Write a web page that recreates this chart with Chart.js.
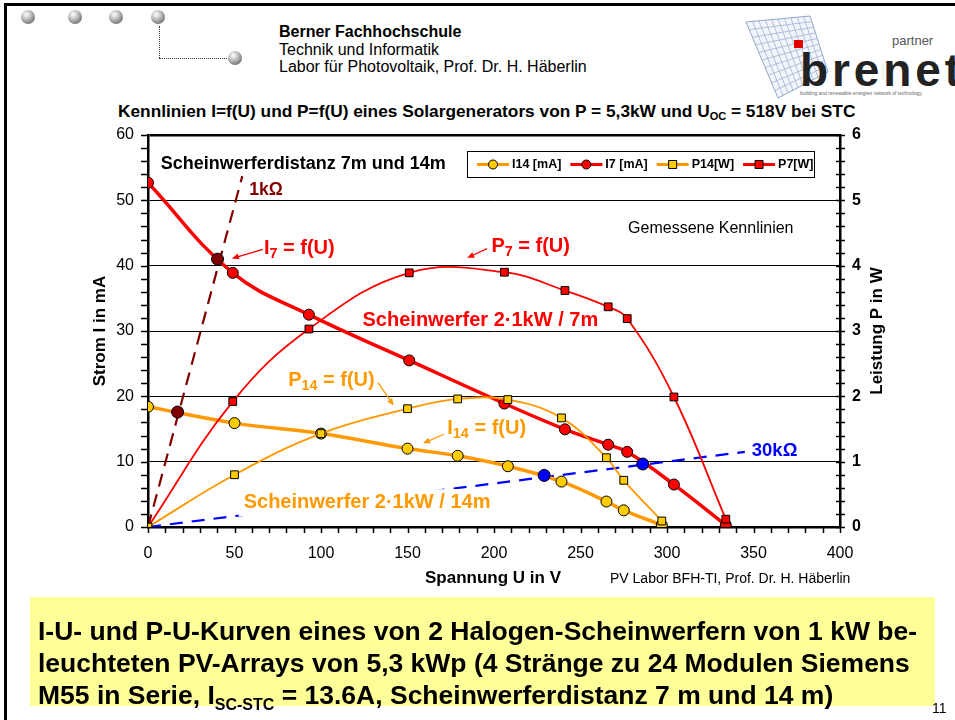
<!DOCTYPE html>
<html>
<head>
<meta charset="utf-8">
<script src="https://cdn.jsdelivr.net/npm/chart.js@4.4.1/dist/chart.umd.min.js"></script>
<style>
  body { margin: 0; width: 955px; height: 720px; background: #fff; position: relative; overflow: hidden;
         font-family: "Liberation Sans", Arial, sans-serif; color: #000; }
  .frame { position: absolute; left: 4px; top: 3px; width: 1000px; height: 800px;
           border-left: 3px solid #000; border-top: 3px solid #000; }
  .ball { position: absolute; width: 14px; height: 14px; border-radius: 50%;
          background: radial-gradient(circle at 38% 32%, #fff 0%, #ccc 30%, #777 75%, #444 100%); }
  .dots { position: absolute; border: 0 dotted #333; }
  .head { position: absolute; left: 279px; top: 23px; font-size: 16px; line-height: 17.5px; white-space: nowrap; }
  .title { position: absolute; left: 118px; top: 101px; font-size: 17.3px; font-weight: bold; white-space: nowrap; }
  .title sub { font-size: 11px; vertical-align: -3px; }
  #chart { position: absolute; left: 60px; top: 120px; }
  .credit { position: absolute; left: 610px; top: 570px; font-size: 14px; white-space: nowrap; }
  .note { position: absolute; left: 30px; top: 597px; width: 905px; height: 109px; background: #FFFF99;
          font-weight: bold; font-size: 26.5px; line-height: 32px; padding: 18px 0 0 8px; box-sizing: border-box; white-space: nowrap; }
  .note sub { font-size: 16px; vertical-align: -6px; line-height: 0; }
  .page { position: absolute; left: 932px; top: 700px; font-size: 14px; }
  .logo { position: absolute; left: 740px; top: 14px; }
</style>
</head>
<body>
<div class="frame"></div>
<div class="ball" style="left:21px;top:10px"></div>
<div class="ball" style="left:68px;top:10px"></div>
<div class="ball" style="left:109px;top:10px"></div>
<div class="ball" style="left:151px;top:10px"></div>
<div class="dots" style="left:159px;top:26px;height:32px;border-left-width:1.5px"></div>
<div class="dots" style="left:159px;top:58px;width:68px;border-top-width:1.5px"></div>
<div class="ball" style="left:228px;top:51px"></div>

<div class="head"><b>Berner Fachhochschule</b><br>Technik und Informatik<br>Labor für Photovoltaik, Prof. Dr. H. Häberlin</div>

<svg class="logo" width="215" height="90" viewBox="0 0 215 90">
  <g stroke="#8fa6c8" stroke-width="1" fill="#f2f5fb">
    <polygon points="6,8 70,2 88,58 38,84"/>
  </g>
  <g stroke="#9fb3d3" stroke-width="0.8" fill="none" id="grid"></g>
  <rect x="54" y="26" width="9" height="8" fill="#e00000"/>
  <text x="152" y="31" font-size="13" fill="#555" font-family="Liberation Sans, Arial">partner</text>
  <text x="60" y="72" font-size="46" font-weight="bold" fill="#222" font-family="Liberation Sans, Arial" textLength="160">brenet</text>
  <text x="60" y="81" font-size="5" fill="#666" font-family="Liberation Sans, Arial">building and renewable energies network of technology</text>
</svg>

<div class="title">Kennlinien I=f(U) und P=f(U) eines Solargenerators von P = 5,3kW und U<sub>OC</sub> = 518V bei STC</div>

<canvas id="chart" width="860" height="480"></canvas>

<div class="credit">PV Labor BFH-TI, Prof. Dr. H. Häberlin</div>

<div class="note">I-U- und P-U-Kurven eines von 2 Halogen-Scheinwerfern von 1 kW be-<br>leuchteten PV-Arrays von 5,3 kWp (4 Stränge zu 24 Modulen Siemens<br>M55 in Serie, I<sub>SC-STC</sub> = 13.6A, Scheinwerferdistanz 7 m und 14 m)</div>
<div class="page">11</div>

<script>
// Messwerte, Scheinwerferdistanz 14 m
const voltage14 = [0, 50, 100, 150, 179, 208, 239, 265, 275, 297];
const current14 = [18.4, 15.9, 14.3, 12.0, 10.9, 9.3, 6.95, 3.9, 2.55, 0.3];
const power14 = [0, 0.80, 1.43, 1.81, 1.96, 1.95, 1.67, 1.06, 0.715, 0.092];

// Messwerte, Scheinwerferdistanz 7 m
const voltage7 = [0, 49, 93, 151, 206, 241, 266, 277, 304, 334];
const current7 = [52.7, 38.9, 32.5, 25.5, 18.9, 14.95, 12.6, 11.5, 6.5, 0.3];
const power7 = [0, 1.92, 3.03, 3.89, 3.90, 3.62, 3.37, 3.19, 1.99, 0.12];

// Lastgeraden 1 kOhm und 30 kOhm
const load1kU = [0, 54.5];
const load1kI = [0, 53.7];
const load30kU = [0, 345];
const load30kI = [0, 11.5];

// Arbeitspunkte auf den Lastgeraden
const op1kU = [17.1, 40.2];
const op1kI = [17.6, 41.0];
const op30kU = [229, 286];
const op30kI = [7.9, 9.64];

const orange = '#FF9900', yellow = '#FFCC00', red = '#FF0000', darkRed = '#800000', blue = '#0000FF';
const FONT = '"Liberation Sans", Arial, sans-serif';

const pts = (xs, ys) => xs.map((v, i) => ({ x: v, y: ys[i] }));

Chart.defaults.font.family = FONT;
Chart.defaults.color = '#000';

// Beschriftungen im Diagramm (Position in V / mA)
const notes = [
  { u: 7.3, i: 55.6, parts: [['Scheinwerferdistanz 7m und 14m']], color: '#000', size: 18 },
  { u: 58.5, i: 51.5, parts: [['1kΩ']], color: darkRed, size: 17.5 },
  { u: 67, i: 42.7, parts: [['I'], ['7', 1], [' = f(U)']], color: red, size: 20 },
  { u: 198.5, i: 42.9, parts: [['P'], ['7', 1], [' = f(U)']], color: red, size: 20 },
  { u: 277.5, i: 45.7, parts: [['Gemessene Kennlinien']], color: '#000', size: 16, normal: true },
  { u: 124, i: 31.6, parts: [['Scheinwerfer 2·1kW / 7m']], color: red, size: 20 },
  { u: 81, i: 22.4, parts: [['P'], ['14', 1], [' = f(U)']], color: orange, size: 20 },
  { u: 173, i: 15.1, parts: [['I'], ['14', 1], [' = f(U)']], color: orange, size: 20 },
  { u: 55.3, i: 3.8, parts: [['Scheinwerfer 2·1kW / 14m']], color: orange, size: 20, box: true },
  { u: 349, i: 11.6, parts: [['30kΩ']], color: blue, size: 18.5 }
];
const arrows = [
  { from: [66.4, 42.5], to: [48.5, 41.1], color: red },
  { from: [196, 42.6], to: [184.5, 41.2], color: red },
  { from: [133, 22.1], to: [142, 18.6], color: orange },
  { from: [171, 14.2], to: [159, 12.8], color: orange }
];

function richText(ctx, x, y, parts, size, color, normal) {
  let cx = x;
  parts.forEach(([txt, sub]) => {
    const s = sub ? size * 0.72 : size;
    ctx.font = (normal ? '' : 'bold ') + s + 'px ' + FONT;
    ctx.fillStyle = color;
    ctx.textBaseline = 'middle';
    ctx.textAlign = 'left';
    ctx.fillText(txt, cx, sub ? y + size * 0.28 : y);
    cx += ctx.measureText(txt).width;
  });
  return cx - x;
}

const decor = {
  id: 'decor',
  afterDraw(chart) {
    const { ctx, chartArea: a, scales: { x, y, y1 } } = chart;
    ctx.save();

    // Teilstriche
    ctx.strokeStyle = '#000';
    ctx.lineWidth = 1.5;
    ctx.beginPath();
    for (let v = 0; v <= 60; v += 2) {
      const p = Math.round(y.getPixelForValue(v)) + 0.5;
      ctx.moveTo(a.left - 7, p); ctx.lineTo(a.left, p);
    }
    for (let v = 0; v <= 6.001; v += 0.2) {
      const p = Math.round(y1.getPixelForValue(v)) + 0.5;
      ctx.moveTo(a.right - 4, p); ctx.lineTo(a.right + 5, p);
    }
    for (let v = 0; v <= 400; v += 10) {
      const p = Math.round(x.getPixelForValue(v)) + 0.5;
      ctx.moveTo(p, a.bottom); ctx.lineTo(p, a.bottom + 6);
    }
    ctx.stroke();

    // Achsentitel
    ctx.font = 'bold 17px ' + FONT;
    ctx.fillStyle = '#000';
    ctx.textAlign = 'center';
    ctx.textBaseline = 'middle';
    ctx.fillText('Spannung U in V', (a.left + a.right) / 2 - 1, a.bottom + 51);
    [['Strom I in mA', a.left - 48], ['Leistung P in W', a.right + 37]].forEach(([t, cx]) => {
      ctx.save();
      ctx.translate(cx, (a.top + a.bottom) / 2);
      ctx.rotate(-Math.PI / 2);
      ctx.fillText(t, 0, 0);
      ctx.restore();
    });

    // Beschriftungen
    notes.forEach(n => {
      const px = x.getPixelForValue(n.u), py = y.getPixelForValue(n.i);
      if (n.box) {
        ctx.font = 'bold ' + n.size + 'px ' + FONT;
        const w = ctx.measureText(n.parts.map(p => p[0]).join('')).width;
        ctx.fillStyle = '#fff';
        ctx.fillRect(px - 5, py - 13, w + 10, 27);
      }
      richText(ctx, px, py, n.parts, n.size, n.color, n.normal);
    });

    // Pfeile
    arrows.forEach(ar => {
      const x0 = x.getPixelForValue(ar.from[0]), y0 = y.getPixelForValue(ar.from[1]);
      const x1 = x.getPixelForValue(ar.to[0]), y1p = y.getPixelForValue(ar.to[1]);
      const ang = Math.atan2(y1p - y0, x1 - x0);
      ctx.strokeStyle = ar.color; ctx.fillStyle = ar.color; ctx.lineWidth = 1.3;
      ctx.beginPath(); ctx.moveTo(x0, y0); ctx.lineTo(x1 - 5 * Math.cos(ang), y1p - 5 * Math.sin(ang)); ctx.stroke();
      ctx.beginPath();
      ctx.moveTo(x1, y1p);
      ctx.lineTo(x1 - 7 * Math.cos(ang) + 3 * Math.sin(ang), y1p - 7 * Math.sin(ang) - 3 * Math.cos(ang));
      ctx.lineTo(x1 - 7 * Math.cos(ang) - 3 * Math.sin(ang), y1p - 7 * Math.sin(ang) + 3 * Math.cos(ang));
      ctx.closePath(); ctx.fill();
    });

    // Legende
    const lx = 407, ly = 31, lw = 347, lh = 26;
    ctx.fillStyle = '#fff';
    ctx.fillRect(lx, ly, lw, lh);
    ctx.strokeStyle = '#000'; ctx.lineWidth = 1;
    ctx.strokeRect(lx + 0.5, ly + 0.5, lw, lh);
    let cx = lx + 10;
    const cy = ly + lh / 2 + 0.5;
    chart.data.datasets.filter(d => d.legend).sort((p, q) => p.legendPos - q.legendPos).forEach(d => {
      ctx.strokeStyle = d.borderColor; ctx.lineWidth = 3;
      ctx.beginPath(); ctx.moveTo(cx, cy); ctx.lineTo(cx + 32, cy); ctx.stroke();
      ctx.fillStyle = d.pointBackgroundColor; ctx.strokeStyle = '#000'; ctx.lineWidth = 1;
      ctx.beginPath();
      if (d.pointStyle === 'rect') ctx.rect(cx + 12, cy - 4, 8, 8);
      else ctx.arc(cx + 16, cy, 4.5, 0, Math.PI * 2);
      ctx.fill(); ctx.stroke();
      ctx.font = 'bold 12.5px ' + FONT;
      ctx.fillStyle = '#000'; ctx.textAlign = 'left'; ctx.textBaseline = 'middle';
      ctx.fillText(d.legend, cx + 35, cy);
      cx += 35 + ctx.measureText(d.legend).width + 9;
    });
    ctx.restore();
  }
};

const markerDs = (xs, ys, color) => ({
  data: pts(xs, ys), showLine: false, pointRadius: 6, pointBackgroundColor: color,
  pointBorderColor: '#000', pointBorderWidth: 1, yAxisID: 'y'
});

// feste Achsenbreiten, keine zusaetzlichen Randabstaende durch Beschriftungen
const fixSize = (w, h) => s => {
  if (w) s.width = w;
  if (h) s.height = h;
  s.paddingTop = 0; s.paddingBottom = 0; s.paddingLeft = 0; s.paddingRight = 0;
};

// erster Datensatz liegt oben
new Chart(document.getElementById('chart').getContext('2d'), {
  type: 'line',
  data: {
    datasets: [
      markerDs(op1kU, op1kI, darkRed),
      markerDs(op30kU, op30kI, blue),
      { legend: 'P14[W]', legendPos: 3, data: pts(voltage14, power14), yAxisID: 'y1', borderColor: orange, borderWidth: 1.8,
        tension: 0.4, pointRadius: 5.5, pointStyle: 'rect', pointBackgroundColor: yellow, pointBorderColor: '#000', pointBorderWidth: 1 },
      { legend: 'P7[W]', legendPos: 4, data: pts(voltage7, power7), yAxisID: 'y1', borderColor: red, borderWidth: 1.8,
        tension: 0.4, pointRadius: 5.5, pointStyle: 'rect', pointBackgroundColor: red, pointBorderColor: '#000', pointBorderWidth: 1 },
      { legend: 'I14 [mA]', legendPos: 1, data: pts(voltage14, current14), yAxisID: 'y', borderColor: orange, borderWidth: 3.5,
        tension: 0.4, pointRadius: 5.5, pointStyle: 'circle', pointBackgroundColor: yellow, pointBorderColor: '#000', pointBorderWidth: 1 },
      { legend: 'I7 [mA]', legendPos: 2, data: pts(voltage7, current7), yAxisID: 'y', borderColor: red, borderWidth: 3.5,
        tension: 0.4, pointRadius: 5.5, pointStyle: 'circle', pointBackgroundColor: red, pointBorderColor: '#000', pointBorderWidth: 1 },
      { data: pts(load1kU, load1kI), yAxisID: 'y', borderColor: darkRed, borderWidth: 2.2, borderDash: [13, 8], pointRadius: 0 },
      { data: pts(load30kU, load30kI), yAxisID: 'y', borderColor: blue, borderWidth: 2.2, borderDash: [13, 9], pointRadius: 0 }
    ]
  },
  options: {
    responsive: false,
    animation: false,
    layout: { padding: { top: 15, left: 0, right: 0, bottom: 0 } },
    plugins: { legend: { display: false }, tooltip: { enabled: false } },
    scales: {
      x: {
        type: 'linear', min: 0, max: 400,
        ticks: { stepSize: 50, padding: 17, font: { size: 16 } },
        grid: { display: false, drawTicks: false },
        border: { color: '#000', width: 2.5 },
        afterFit: fixSize(0, 73)
      },
      y: {
        position: 'left', min: 0, max: 60,
        ticks: { stepSize: 10, padding: 14, font: { size: 16 } },
        grid: { color: '#000', lineWidth: c => (c.tick && c.tick.value === 60 ? 2.5 : 1), drawTicks: false },
        border: { color: '#000', width: 2.5 },
        afterFit: fixSize(88, 0)
      },
      y1: {
        position: 'right', min: 0, max: 6,
        ticks: { stepSize: 1, padding: 12, font: { size: 16, weight: 'bold' } },
        grid: { display: false, drawTicks: false },
        border: { color: '#000', width: 2.5 },
        afterFit: fixSize(80, 0)
      }
    }
  },
  plugins: [decor]
});

// Raster im Logo
const g = document.getElementById('grid');
for (let k = 1; k < 10; k++) {
  const t = k / 10;
  const a = [6 + 64 * t, 8 - 6 * t], b = [38 + 50 * t, 84 - 26 * t];
  const c = [6 + 32 * t, 8 + 76 * t], d = [70 + 18 * t, 2 + 56 * t];
  g.insertAdjacentHTML('beforeend', `<line x1="${a[0]}" y1="${a[1]}" x2="${b[0]}" y2="${b[1]}"/><line x1="${c[0]}" y1="${c[1]}" x2="${d[0]}" y2="${d[1]}"/>`);
}
</script>
</body>
</html>
